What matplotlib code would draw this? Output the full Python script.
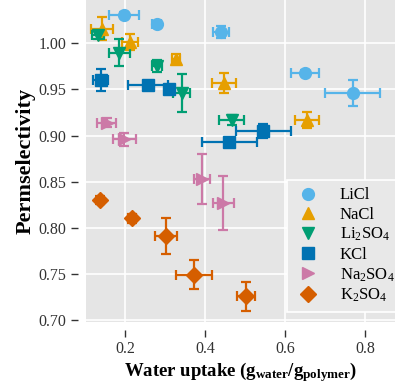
import numpy as np
import matplotlib
matplotlib.use("Agg")
import matplotlib.pyplot as plt

plt.rcParams['font.family'] = ['Liberation Serif', 'DejaVu Serif']
plt.rcParams['mathtext.fontset'] = 'custom'
plt.rcParams['mathtext.rm'] = 'Liberation Serif'
plt.rcParams['mathtext.it'] = 'Liberation Serif:italic'
plt.rcParams['mathtext.bf'] = 'Liberation Serif:bold'

# water uptake, permselectivity and their error bars for each salt
licl_x = [0.198, 0.279, 0.440, 0.650, 0.769]
licl_y = [1.031, 1.021, 1.012, 0.968, 0.946]
licl_xe = [0.038, 0.012, 0.019, 0.035, 0.068]
licl_ye = [0.003, 0.003, 0.0065, 0.003, 0.014]

nacl_x = [0.142, 0.2125, 0.327, 0.4475, 0.654]
nacl_y = [1.016, 1.001, 0.983, 0.957, 0.917]
nacl_xe = [0.028, 0.021, 0.010, 0.031, 0.030]
nacl_ye = [0.0125, 0.0087, 0.005, 0.011, 0.009]

li2so4_x = [0.131, 0.186, 0.279, 0.342, 0.467]
li2so4_y = [1.009, 0.990, 0.975, 0.946, 0.917]
li2so4_xe = [0.015, 0.026, 0.0125, 0.021, 0.031]
li2so4_ye = [0.0045, 0.0145, 0.0065, 0.021, 0.0055]

kcl_x = [0.139, 0.257, 0.311, 0.546, 0.461]
kcl_y = [0.9604, 0.955, 0.950, 0.905, 0.893]
kcl_xe = [0.019, 0.050, 0.010, 0.069, 0.069]
kcl_ye = [0.012, 0.003, 0.003, 0.0076, 0.003]

na2so4_x = [0.154, 0.1975, 0.393, 0.446]
na2so4_y = [0.914, 0.896, 0.853, 0.827]
na2so4_xe = [0.024, 0.029, 0.020, 0.027]
na2so4_ye = [0.005, 0.007, 0.027, 0.029]

k2so4_x = [0.1375, 0.218, 0.3025, 0.373, 0.5025]
k2so4_y = [0.830, 0.810, 0.791, 0.749, 0.7254]
k2so4_xe = [0.006, 0.010, 0.028, 0.045, 0.023]
k2so4_ye = [0.004, 0.005, 0.019, 0.016, 0.016]

series = [
    ("LiCl", licl_x, licl_y, licl_xe, licl_ye, "#56B4E9", "o", 8.5),
    ("NaCl", nacl_x, nacl_y, nacl_xe, nacl_ye, "#E69F00", "^", 8.5),
    ("Li$_2$SO$_4$", li2so4_x, li2so4_y, li2so4_xe, li2so4_ye, "#009E73", "v", 8.5),
    ("KCl", kcl_x, kcl_y, kcl_xe, kcl_ye, "#0072B2", "s", 8),
    ("Na$_2$SO$_4$", na2so4_x, na2so4_y, na2so4_xe, na2so4_ye, "#CC79A7", ">", 8.5),
    ("K$_2$SO$_4$", k2so4_x, k2so4_y, k2so4_xe, k2so4_ye, "#D55E00", "D", 8),
]

fig = plt.figure(figsize=(3.95, 3.83), dpi=100)
ax = fig.add_axes([0.218, 0.16, 0.782, 0.84])
ax.set_facecolor("#e5e5e5")

for name, x, y, xe, ye, c, m, ms in series:
    ax.errorbar(x, y, xerr=xe, yerr=ye, fmt="none", ecolor=c,
                elinewidth=1.6, capsize=3.5, capthick=1.6, zorder=2)
    ax.plot(x, y, linestyle="none", marker=m, markersize=ms, color=c,
            label=name, zorder=3)

ax.set_xlim(0.1025, 0.875)
ax.set_ylim(0.698, 1.047)
ax.set_xticks([0.2, 0.4, 0.6, 0.8])
ax.set_yticks([0.70, 0.75, 0.80, 0.85, 0.90, 0.95, 1.00])
ax.set_yticklabels(["%.2f" % v for v in ax.get_yticks()])
ax.grid(True, color="white", linewidth=1.2)
ax.set_axisbelow(True)

for side in ["left", "bottom"]:
    ax.spines[side].set_position(("outward", 6))
for side in ax.spines:
    ax.spines[side].set_visible(False)
ax.tick_params(axis="both", direction="out", length=5, width=1,
               color="#333333", labelsize=11.5, labelcolor="#333333", pad=3)

ax.set_xlabel(r"Water uptake (g$_{\mathbf{water}}$/g$_{\mathbf{polymer}}$)",
              fontsize=13.5, fontweight="bold", labelpad=2)
ax.set_ylabel("Permselectivity", fontsize=16, fontweight="bold", labelpad=2)

leg = ax.legend(loc="lower right", bbox_to_anchor=(1.05, 0.005), fontsize=12,
                frameon=True, facecolor="#e8e8e8", edgecolor="white",
                framealpha=1, fancybox=False, labelspacing=0.2,
                handletextpad=1.1, borderpad=0.45, handlelength=1.6)
leg.get_frame().set_linewidth(1.2)

fig.savefig("out.png", dpi=100)
